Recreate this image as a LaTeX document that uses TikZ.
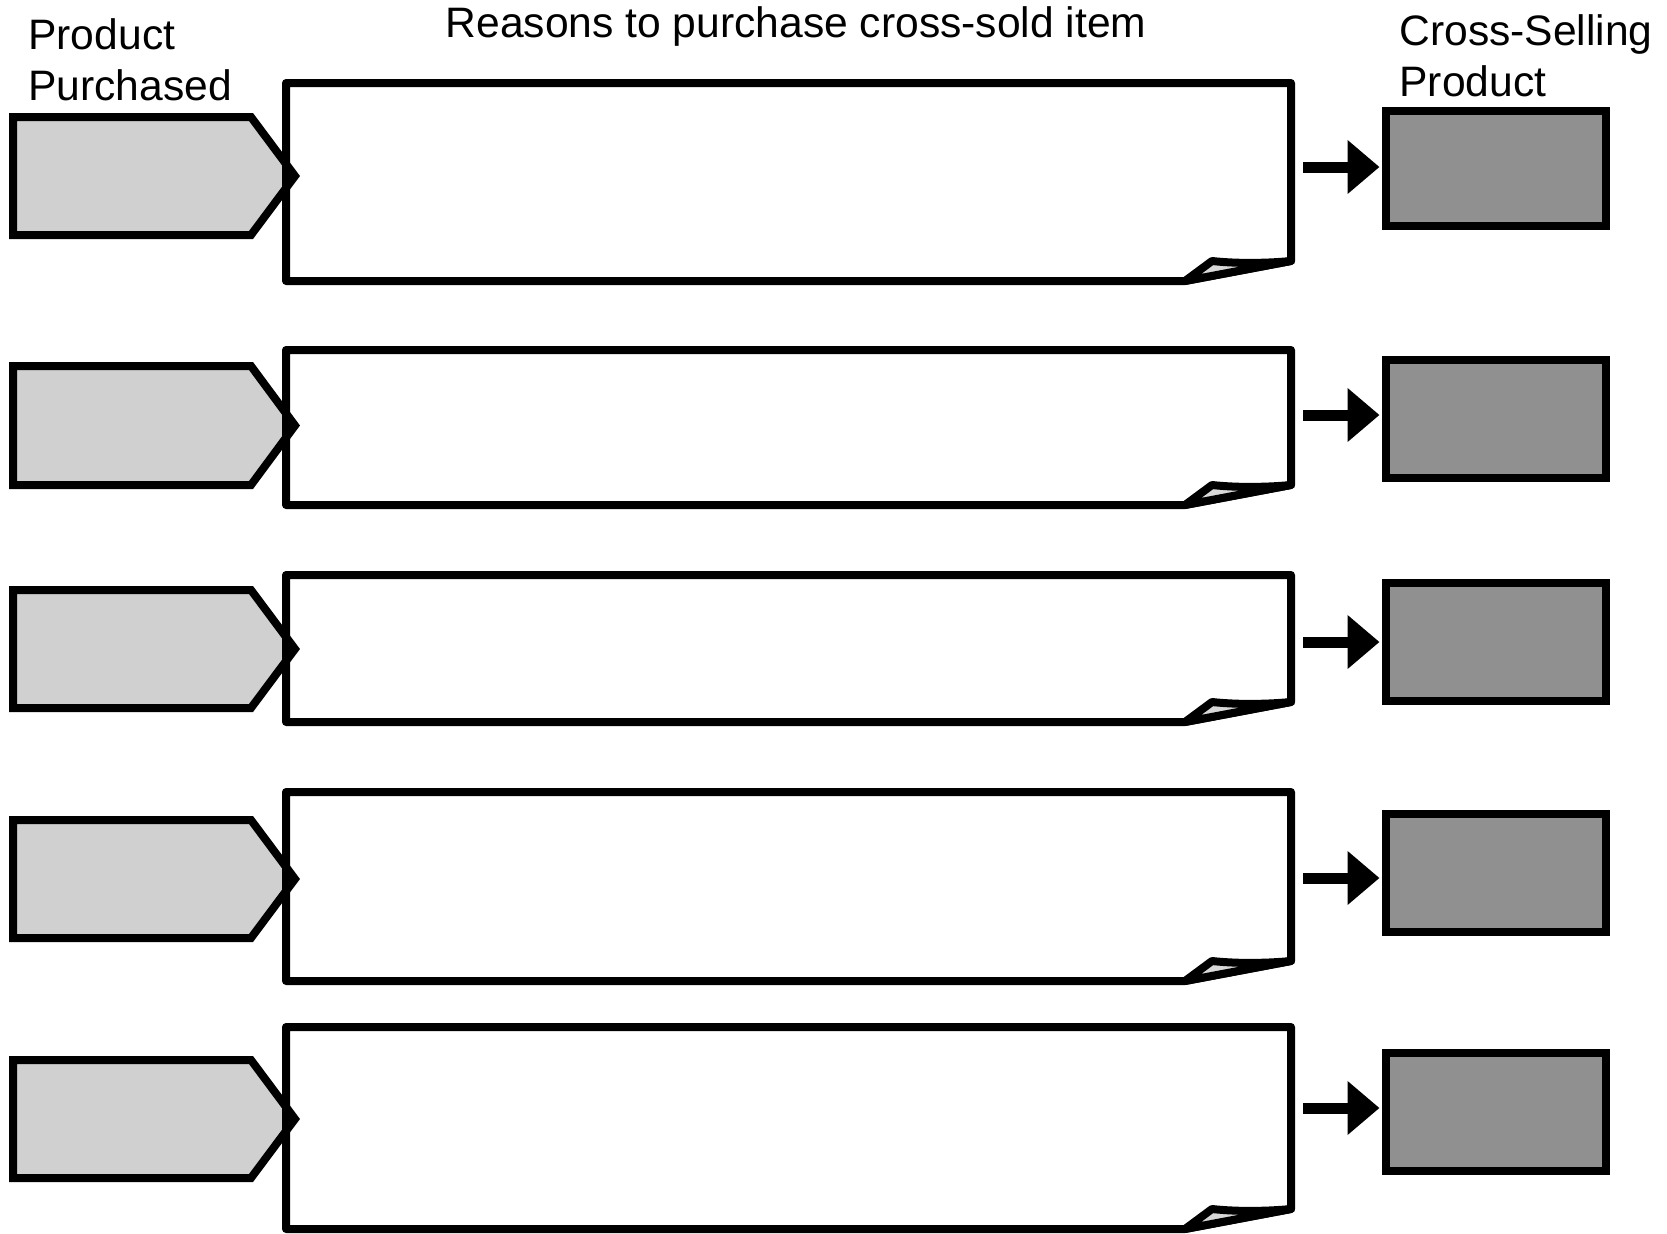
\documentclass[tikz,border=0pt]{standalone}
\usepackage{fontspec}
\setmainfont{Liberation Sans}
\usetikzlibrary{arrows.meta}
\definecolor{pentfill}{HTML}{D0D0D0}
\definecolor{prodfill}{HTML}{909090}
\definecolor{curlfill}{HTML}{D8D8D8}
\begin{document}
\begin{tikzpicture}[x=0.5pt,y=-0.5pt,
  outline/.style={draw=black,line width=4pt},
  pentshape/.style={outline,fill=pentfill,line join=miter},
  boxshape/.style={outline,line join=round},
  curlshape/.style={outline,fill=curlfill,line join=round},
  prodbox/.style={outline,fill=prodfill,minimum width=110pt,inner sep=0pt,line join=miter},
  fatarrow/.style={line width=5.5pt,-{Triangle[length=16pt,width=26pt]}},
  lbl/.style={inner sep=0pt,font=\fontsize{21.3}{25}\selectfont}]
\useasboundingbox (0,0) rectangle (1667,1233);
\fill[white] (0,0) rectangle (1667,1233);
\node[lbl,anchor=base west] (pp1) at (28,49) {Product};
\node[lbl,anchor=base west] (pp2) at (28,100) {Purchased};
\node[lbl,anchor=base] (rs) at (796,37) {Reasons to purchase cross-sold item};
\node[lbl,anchor=base west] (cs1) at (1399,45) {Cross-Selling};
\node[lbl,anchor=base west] (cs2) at (1399,96) {Product};
\foreach \i/\pt/\pb/\bt/\bb/\ay/\rt/\rb in {
  1/117/235/83/281/167/111/226,
  2/366/485/350/505/415/360/478,
  3/590/708/575/722/642/583/701,
  4/820/938/792/981/878/814/932,
  5/1060/1178/1027/1229/1108/1053/1171}{
  \pgfmathsetmacro{\pm}{(\pt+\pb)/2}
  \pgfmathsetmacro{\rm}{(\rt+\rb)/2}
  \pgfmathsetmacro{\rh}{(\rb-\rt)/2}
  \pgfmathsetmacro{\cy}{\bb-20}
  % product purchased pentagon
  \draw[pentshape] (13,\pt) -- (251,\pt) -- (295,\pm) -- (251,\pb) -- (13,\pb) -- cycle;
  \coordinate (tip\i) at (295,\pm);
  % reasons box with curled corner
  \draw[boxshape] (286,\bt) -- (1291,\bt) -- (1291,\cy) -- (1185,\bb) -- (286,\bb) -- cycle;
  \draw[curlshape] (1185,\bb) -- (1212,\cy) .. controls (1240,\cy+3) and (1270,\cy+2) .. (1291,\cy) -- cycle;
  % cross-selling product
  \node[prodbox,minimum height=\rh pt] (c\i) at (1495.5,\rm) {};
  \coordinate (a\i) at (1303,\ay);
  \draw[fatarrow,shorten >=1pt] (a\i) -- (c\i.west |- a\i);
}
\end{tikzpicture}
\end{document}
